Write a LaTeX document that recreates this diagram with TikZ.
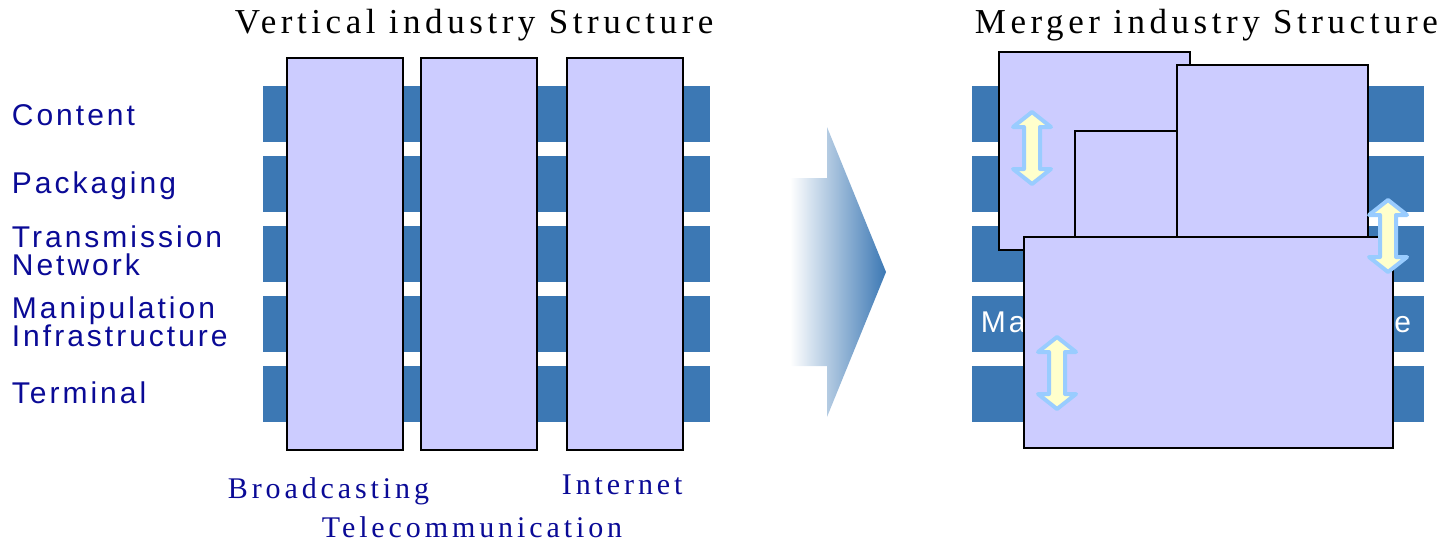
\documentclass[tikz,border=0pt]{standalone}
\usepackage{fontspec}
\setmainfont{Liberation Serif}
\setsansfont{Liberation Sans}
\newfontfamily\spacedserif[LetterSpace=13]{Liberation Serif}
\newfontfamily\spacedsans[LetterSpace=10]{Liberation Sans}
\definecolor{barblue}{RGB}{60,120,180}
\definecolor{colfill}{RGB}{204,204,255}
\definecolor{labelblue}{RGB}{10,10,150}
\definecolor{arrowline}{RGB}{153,204,255}
\definecolor{arrowfill}{RGB}{255,255,204}

\begin{document}
\begin{tikzpicture}[x = 0.5pt, y = -0.5pt, line width = 0.9pt,
    layer/.style = {fill = barblue, minimum height = 28pt, inner sep = 0pt},
    column/.style = {draw, fill = colfill, inner sep = 0pt},
    lefttext/.style = {anchor = base west, inner sep = 0pt, align = left, text = labelblue,
        font = \spacedsans\fontsize{15}{14}\selectfont},
    title/.style = {anchor = base west, inner sep = 0pt, font = \spacedserif\fontsize{17.5}{20}\selectfont},
    market/.style = {anchor = base west, inner sep = 0pt, text = labelblue,
        font = \spacedserif\fontsize{15}{18}\selectfont},
    updown/.style = {draw = arrowline, fill = arrowfill, line width = 2pt, line join = round}]
\useasboundingbox (0,0) rectangle (1449,541);

% vertical structure
\draw
    (234,33) node[title](t1){Vertical industry Structure}
    (11,125) node[lefttext](l1){Content}
    (11,193) node[lefttext](l2){Packaging}
    (11,275) node[lefttext](l3){Transmission\\Network}
    (11,346) node[lefttext](l4){Manipulation\\Infrastructure}
    (11,403) node[lefttext](l5){Terminal};

\draw
    (486.5,114) node[layer, minimum width = 223.5pt](b1){}
    (486.5,184) node[layer, minimum width = 223.5pt](b2){}
    (486.5,254) node[layer, minimum width = 223.5pt](b3){}
    (486.5,324) node[layer, minimum width = 223.5pt](b4){}
    (486.5,394) node[layer, minimum width = 223.5pt](b5){};

\draw
    (345,254) node[column, minimum width = 58pt, minimum height = 196pt](c1){}
    (479,254) node[column, minimum width = 58pt, minimum height = 196pt](c2){}
    (625,254) node[column, minimum width = 58pt, minimum height = 196pt](c3){};

\draw
    (227,498) node[market](n1){Broadcasting}
    (561,494) node[market](n2){Internet}
    (321,537) node[market](n3){Telecommunication};

% big arrow
\shade[left color = white, right color = barblue]
    (790,178) -- (827,178) -- (827,127) -- (886,272) -- (827,417) -- (827,366) -- (790,366) -- cycle;

% merger structure
\draw (974,33) node[title](t2){Merger industry Structure};

\draw
    (1198,114) node[layer, minimum width = 226pt](m1){}
    (1198,184) node[layer, minimum width = 226pt](m2){}
    (1198,254) node[layer, minimum width = 226pt](m3){}
    (1198,324) node[layer, minimum width = 226pt](m4){}
    (1198,394) node[layer, minimum width = 226pt](m5){};
\node[lefttext, text = white] (w4) at (980,332) {Manipulation Infrastructure};

\draw
    (1094.5,151) node[column, minimum width = 95.5pt, minimum height = 99pt](f1){}
    (1126,185.5) node[column, minimum width = 51pt, minimum height = 54.5pt](f2){}
    (1272.5,152.5) node[column, minimum width = 95.5pt, minimum height = 87.5pt](f3){}
    (1208.5,342.5) node[column, minimum width = 184.5pt, minimum height = 105.5pt](f4){};

\draw[updown] (1032,112) -- ++(19,15) -- ++(-11,0) -- ++(0,42) -- ++(11,0) -- ++(-19,15)
    -- ++(-19,-15) -- ++(11,0) -- ++(0,-42) -- ++(-11,0) -- cycle;
\draw[updown] (1388,200) -- ++(19,15) -- ++(-11,0) -- ++(0,42) -- ++(11,0) -- ++(-19,15)
    -- ++(-19,-15) -- ++(11,0) -- ++(0,-42) -- ++(-11,0) -- cycle;
\draw[updown] (1057,337) -- ++(19,15) -- ++(-11,0) -- ++(0,42) -- ++(11,0) -- ++(-19,15)
    -- ++(-19,-15) -- ++(11,0) -- ++(0,-42) -- ++(-11,0) -- cycle;

\end{tikzpicture}
\end{document}
